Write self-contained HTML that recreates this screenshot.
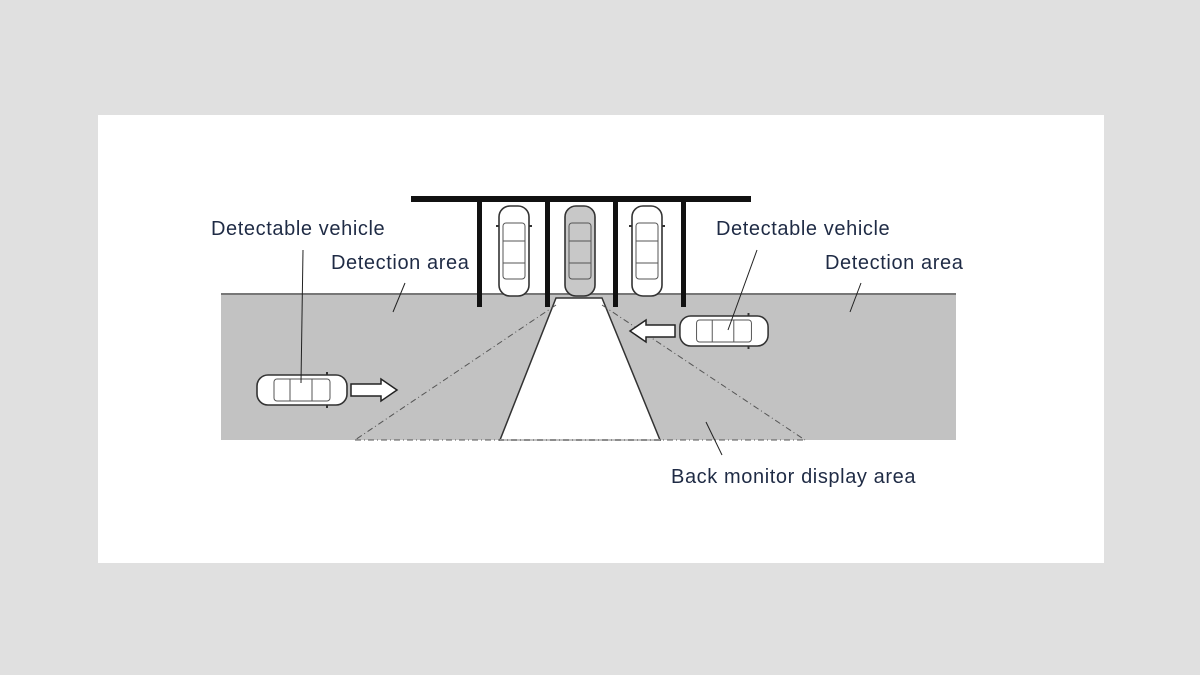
<!DOCTYPE html>
<html><head><meta charset="utf-8"><style>
html,body{margin:0;padding:0;background:#e0e0e0;width:1200px;height:675px;overflow:hidden}
svg{display:block}
text{font-family:"Liberation Sans",sans-serif;font-size:20px;letter-spacing:0.6px;fill:#1f2b45}
</style></head><body>
<svg width="1200" height="675" viewBox="0 0 1200 675" xmlns="http://www.w3.org/2000/svg">
<defs>
<g id="car">
 <rect x="-15" y="-45" width="30" height="90" rx="11" fill="#fff" stroke="#333" stroke-width="1.6"/>
 <rect x="-11" y="-28" width="22" height="56" rx="3" fill="none" stroke="#555" stroke-width="1"/>
 <line x1="-11" y1="-10" x2="11" y2="-10" stroke="#555"/>
 <line x1="-11" y1="12" x2="11" y2="12" stroke="#555"/>
 <line x1="-15" y1="-25" x2="-18" y2="-25" stroke="#333" stroke-width="2"/>
 <line x1="15" y1="-25" x2="18" y2="-25" stroke="#333" stroke-width="2"/>
</g>
<g id="carg">
 <rect x="-15" y="-45" width="30" height="90" rx="11" fill="#c8c8c8" stroke="#333" stroke-width="1.6"/>
 <rect x="-11" y="-28" width="22" height="56" rx="3" fill="none" stroke="#555" stroke-width="1"/>
 <line x1="-11" y1="-10" x2="11" y2="-10" stroke="#555"/>
 <line x1="-11" y1="12" x2="11" y2="12" stroke="#555"/>
</g>
</defs>
<rect x="98" y="115" width="1006" height="448" fill="#fff"/>
<rect x="221" y="293" width="735" height="147" fill="#c2c2c2"/>
<line x1="221" y1="294" x2="956" y2="294" stroke="#777" stroke-width="2"/>
<polygon points="556,298 602,298 660,440 500,440" fill="#fff" stroke="#333" stroke-width="1.5"/>
<line x1="500" y1="440" x2="660" y2="440" stroke="#c2c2c2" stroke-width="2"/>
<g stroke="#555" stroke-width="1" stroke-dasharray="6,3,1,3" fill="none">
<line x1="556" y1="305" x2="355" y2="440"/>
<line x1="602" y1="305" x2="805" y2="440"/>
<line x1="355" y1="440" x2="805" y2="440"/>
</g>
<rect x="411" y="196" width="340" height="6" fill="#111"/>
<g fill="#111"><rect x="477" y="196" width="5" height="111"/><rect x="545" y="196" width="5" height="111"/><rect x="613" y="196" width="5" height="111"/><rect x="681" y="196" width="5" height="111"/></g>
<use href="#car" transform="translate(514,251)"/>
<use href="#carg" transform="translate(580,251)"/>
<use href="#car" transform="translate(647,251)"/>
<use href="#car" transform="translate(724,331) rotate(90) scale(1,0.98)"/>
<use href="#car" transform="translate(302,390) rotate(90) scale(1,1)"/>
<polygon points="675,325 646,325 646,320 630,331 646,342 646,337 675,337" fill="#fff" stroke="#222" stroke-width="1.5"/>
<polygon points="351,384 381,384 381,379 397,390 381,401 381,396 351,396" fill="#fff" stroke="#222" stroke-width="1.5"/>
<g stroke="#222" stroke-width="1">
<line x1="303" y1="250" x2="301" y2="383"/>
<line x1="405" y1="283" x2="393" y2="312"/>
<line x1="757" y1="250" x2="728" y2="330"/>
<line x1="861" y1="283" x2="850" y2="312"/>
<line x1="706" y1="422" x2="722" y2="455"/>
</g>
<text x="211" y="235">Detectable vehicle</text>
<text x="331" y="269">Detection area</text>
<text x="716" y="235">Detectable vehicle</text>
<text x="825" y="269">Detection area</text>
<text x="671" y="483">Back monitor display area</text>
</svg>
</body></html>
